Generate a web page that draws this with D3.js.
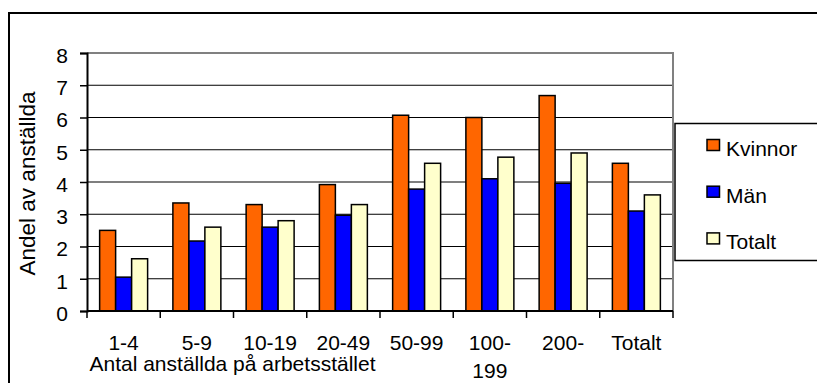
<!DOCTYPE html>
<html>
<head>
<meta charset="utf-8">
<script src="https://cdn.jsdelivr.net/npm/d3@7"></script>
<style>
  html, body { margin: 0; padding: 0; background: #fff; }
  svg { display: block; }
  text { font-family: "Liberation Sans", Arial, sans-serif; fill: #000; }
</style>
</head>
<body>
<svg id="chart" width="817" height="383"></svg>
<script>
// Category labels (size of workplace); "100-199" wraps onto two lines
const categories = ["1-4", "5-9", "10-19", "20-49", "50-99", "100-199", "200-", "Totalt"];
const categoryLines = [["1-4"], ["5-9"], ["10-19"], ["20-49"], ["50-99"], ["100-", "199"], ["200-"], ["Totalt"]];

// Share of employees, per series
const seriesNames = ["Kvinnor", "Män", "Totalt"];
const kvinnor = [2.5, 3.35, 3.3, 3.92, 6.07, 6.0, 6.68, 4.58];
const man     = [1.05, 2.17, 2.6, 2.97, 3.78, 4.1, 3.96, 3.1];
const totalt  = [1.62, 2.6, 2.8, 3.3, 4.58, 4.77, 4.9, 3.6];

const yTicks = [0, 1, 2, 3, 4, 5, 6, 7, 8];

const colors = ["#FF6600", "#0000FF", "#FFFFCC"];
const seriesValues = [kvinnor, man, totalt];

const svg = d3.select("#chart");

// Outer chart frame
svg.append("rect")
  .attr("x", 9).attr("y", 13)
  .attr("width", 900).attr("height", 500)
  .attr("fill", "#fff").attr("stroke", "#000").attr("stroke-width", 2);

const plot = { left: 87, right: 673, top: 53, bottom: 311 };

const x0 = d3.scaleBand().domain(categories).range([plot.left, plot.right]).padding(0);
const x1 = d3.scaleBand().domain(seriesNames).range([0, x0.bandwidth()])
  .paddingInner(0).paddingOuter(0.79);
const y = d3.scaleLinear().domain([0, 8]).range([plot.bottom, plot.top]);

// Horizontal gridlines
svg.append("g")
  .selectAll("line")
  .data(yTicks.filter(t => t > 0 && t < 8))
  .join("line")
  .attr("x1", plot.left).attr("x2", plot.right)
  .attr("y1", d => y(d)).attr("y2", d => y(d))
  .attr("stroke", "#000").attr("stroke-width", 1.2);

// Plot area border (top and right)
svg.append("path")
  .attr("d", `M${plot.left},${y(8)}H${plot.right}V${plot.bottom}`)
  .attr("fill", "none").attr("stroke", "#808080").attr("stroke-width", 2);

// Bars
const groups = svg.append("g")
  .selectAll("g")
  .data(categories)
  .join("g")
  .attr("transform", d => `translate(${x0(d)},0)`);

groups.selectAll("rect")
  .data((c, i) => seriesNames.map((s, k) => ({ s, k, v: seriesValues[k][i] })))
  .join("rect")
  .attr("x", d => x1(d.s))
  .attr("width", x1.bandwidth())
  .attr("y", d => y(d.v))
  .attr("height", d => y(0) - y(d.v))
  .attr("fill", d => colors[d.k])
  .attr("stroke", "#000").attr("stroke-width", 1.5);

// Y axis
const yAxis = d3.axisLeft(y).tickValues(yTicks).tickSize(7).tickPadding(12).tickFormat(d3.format("d"));
const gy = svg.append("g").attr("transform", `translate(${plot.left},0)`).call(yAxis);
gy.select(".domain").attr("stroke", "#000").attr("stroke-width", 2);
gy.selectAll(".tick line").attr("stroke", "#000").attr("stroke-width", 1.5);
gy.selectAll(".tick text")
  .attr("font-size", 21).attr("font-family", "Liberation Sans, Arial, sans-serif")
  .attr("dy", "0.45em");

// X axis: ticks at category boundaries
const boundaries = categories.map(c => x0(c)).concat([plot.right]);
svg.append("line")
  .attr("x1", plot.left).attr("x2", plot.right)
  .attr("y1", plot.bottom).attr("y2", plot.bottom)
  .attr("stroke", "#000").attr("stroke-width", 2);
svg.append("g").selectAll("line")
  .data(boundaries)
  .join("line")
  .attr("x1", d => d).attr("x2", d => d)
  .attr("y1", plot.bottom).attr("y2", plot.bottom + 7)
  .attr("stroke", "#000").attr("stroke-width", 1.5);

// Category labels
const catLabels = svg.append("g").selectAll("text")
  .data(categories.map((c, i) => ({ c, lines: categoryLines[i] })))
  .join("text")
  .attr("x", d => x0(d.c) + x0.bandwidth() / 2)
  .attr("y", 350)
  .attr("text-anchor", "middle")
  .attr("font-size", 21);
catLabels.selectAll("tspan")
  .data(d => d.lines.map((l, j) => ({ l, j, x: x0(d.c) + x0.bandwidth() / 2 })))
  .join("tspan")
  .attr("x", d => d.x)
  .attr("dy", d => d.j === 0 ? 0 : 27.5)
  .text(d => d.l);

// Axis titles
svg.append("text")
  .attr("x", 232.5).attr("y", 371)
  .attr("text-anchor", "middle")
  .attr("font-size", 21)
  .text("Antal anställda på arbetsstället");

svg.append("text")
  .attr("transform", "translate(34.5,183.5) rotate(-90)")
  .attr("text-anchor", "middle")
  .attr("font-size", 22.5)
  .text("Andel av anställda");

// Legend
const legend = svg.append("g");
legend.append("rect")
  .attr("x", 675).attr("y", 123.5)
  .attr("width", 160).attr("height", 137)
  .attr("fill", "#fff").attr("stroke", "#000").attr("stroke-width", 1.5);

const items = legend.selectAll("g.item")
  .data(seriesNames)
  .join("g")
  .attr("class", "item")
  .attr("transform", (d, i) => `translate(707,${148.5 + i * 46.7})`);
items.append("rect")
  .attr("x", 0).attr("y", -9)
  .attr("width", 12.5).attr("height", 11)
  .attr("fill", (d, i) => colors[i])
  .attr("stroke", "#000").attr("stroke-width", 1.5);
items.append("text")
  .attr("x", 19).attr("y", 0)
  .attr("dy", "0.36em")
  .attr("font-size", 21)
  .text(d => d);
</script>
</body>
</html>
